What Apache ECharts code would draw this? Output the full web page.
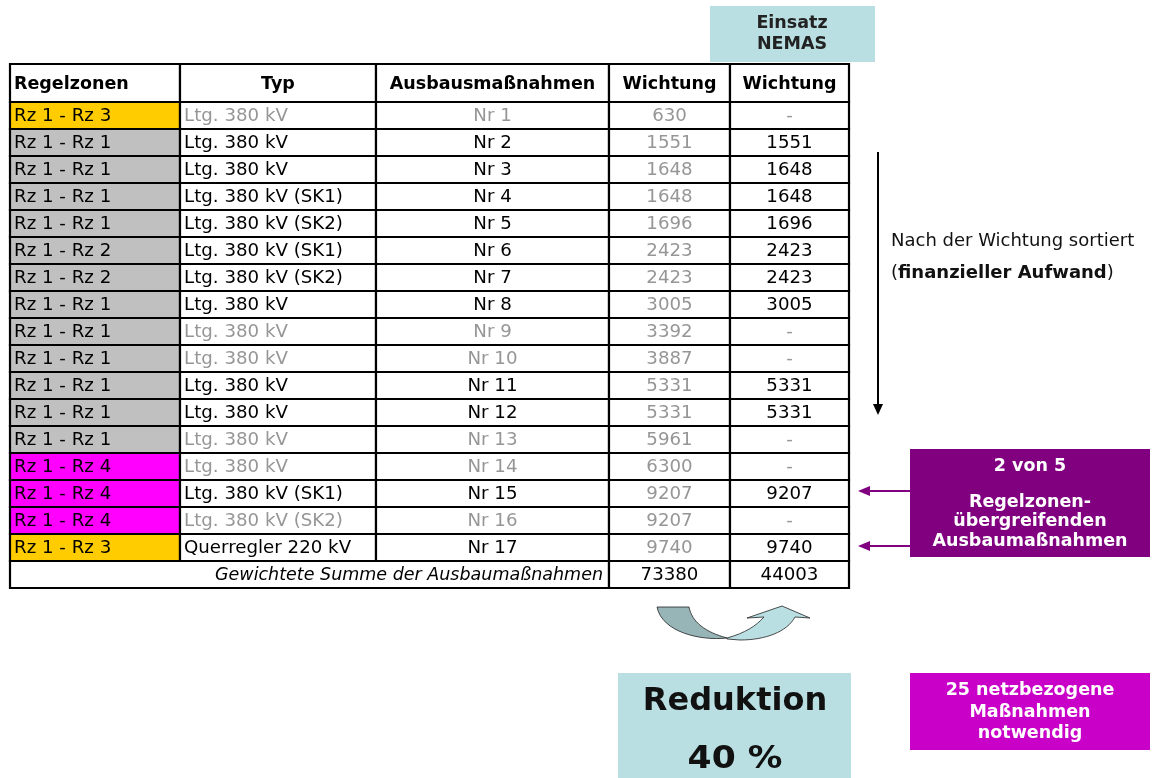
<!DOCTYPE html>
<html>
<head>
<meta charset="utf-8">
<script src="https://cdn.jsdelivr.net/npm/echarts@6/dist/echarts.min.js"></script>
<style>
html,body{margin:0;padding:0;background:#fff;}
#chart{width:1152px;height:778px;}
</style>
</head>
<body>
<div id="chart"></div>
<script>
// ---- data ----
var headers = ['Regelzonen', 'Typ', 'Ausbausmaßnahmen', 'Wichtung', 'Wichtung'];
var zones = ['Rz 1 - Rz 3','Rz 1 - Rz 1','Rz 1 - Rz 1','Rz 1 - Rz 1','Rz 1 - Rz 1','Rz 1 - Rz 2','Rz 1 - Rz 2','Rz 1 - Rz 1','Rz 1 - Rz 1','Rz 1 - Rz 1','Rz 1 - Rz 1','Rz 1 - Rz 1','Rz 1 - Rz 1','Rz 1 - Rz 4','Rz 1 - Rz 4','Rz 1 - Rz 4','Rz 1 - Rz 3'];
var types = ['Ltg. 380 kV','Ltg. 380 kV','Ltg. 380 kV','Ltg. 380 kV (SK1)','Ltg. 380 kV (SK2)','Ltg. 380 kV (SK1)','Ltg. 380 kV (SK2)','Ltg. 380 kV','Ltg. 380 kV','Ltg. 380 kV','Ltg. 380 kV','Ltg. 380 kV','Ltg. 380 kV','Ltg. 380 kV','Ltg. 380 kV (SK1)','Ltg. 380 kV (SK2)','Querregler 220 kV'];
var measures = ['Nr 1','Nr 2','Nr 3','Nr 4','Nr 5','Nr 6','Nr 7','Nr 8','Nr 9','Nr 10','Nr 11','Nr 12','Nr 13','Nr 14','Nr 15','Nr 16','Nr 17'];
var weights = [630,1551,1648,1648,1696,2423,2423,3005,3392,3887,5331,5331,5961,6300,9207,9207,9740];
var nemasWeights = [null,1551,1648,1648,1696,2423,2423,3005,null,null,5331,5331,null,null,9207,null,9740];
var sumLabel = 'Gewichtete Summe der Ausbaumaßnahmen';
var totals = [73380, 44003];
var zoneColors = {'Rz 1 - Rz 3':'#FFCC00','Rz 1 - Rz 1':'#C0C0C0','Rz 1 - Rz 2':'#C0C0C0','Rz 1 - Rz 4':'#FF00FF'};

// ---- layout ----
var FONT = '"DejaVu Sans", Verdana, sans-serif';
var GREY = '#969696';
var TFS = 17.5;
var colEdges = [0, 170, 366, 599, 720, 839];
var HEAD_H = 38, ROW_H = 27;
var nRows = zones.length;
var sumTop = HEAD_H + ROW_H * nRows;
var TABLE_H = sumTop + 27;

var cells = [];
headers.forEach(function (h, c) {
  cells.push({c0: c, c1: c + 1, y0: 0, y1: HEAD_H, text: h, bold: true, color: '#000', bg: '#fff', align: c === 0 ? 'left' : 'center'});
});
for (var i = 0; i < nRows; i++) {
  var y0 = HEAD_H + ROW_H * i, y1 = y0 + ROW_H;
  var used = nemasWeights[i] !== null;
  var tc = used ? '#000' : GREY;
  cells.push({c0: 0, c1: 1, y0: y0, y1: y1, text: zones[i], color: '#000', bg: zoneColors[zones[i]], align: 'left'});
  cells.push({c0: 1, c1: 2, y0: y0, y1: y1, text: types[i], color: tc, bg: '#fff', align: 'left'});
  cells.push({c0: 2, c1: 3, y0: y0, y1: y1, text: measures[i], color: tc, bg: '#fff', align: 'center'});
  cells.push({c0: 3, c1: 4, y0: y0, y1: y1, text: String(weights[i]), color: GREY, bg: '#fff', align: 'center'});
  cells.push({c0: 4, c1: 5, y0: y0, y1: y1, text: used ? String(nemasWeights[i]) : '-', color: used ? '#000' : GREY, bg: '#fff', align: 'center'});
}
cells.push({c0: 0, c1: 3, y0: sumTop, y1: TABLE_H, text: sumLabel, italic: true, color: '#000', bg: '#fff', align: 'right'});
cells.push({c0: 3, c1: 4, y0: sumTop, y1: TABLE_H, text: String(totals[0]), color: '#000', bg: '#fff', align: 'center'});
cells.push({c0: 4, c1: 5, y0: sumTop, y1: TABLE_H, text: String(totals[1]), color: '#000', bg: '#fff', align: 'center'});

var cellData = cells.map(function (c, i) { return [colEdges[c.c0], c.y0, i]; });

function renderCell(params, api) {
  var cell = cells[params.dataIndex];
  var p0 = api.coord([colEdges[cell.c0], cell.y0]);
  var p1 = api.coord([colEdges[cell.c1], cell.y1]);
  var x = p0[0], y = p0[1], w = p1[0] - p0[0], h = p1[1] - p0[1];
  var tx = cell.align === 'left' ? x + 4 : (cell.align === 'right' ? x + w - 6 : x + w / 2);
  var plain = !cell.bold && !cell.italic;
  return {
    type: 'group',
    children: [
      {type: 'rect', shape: {x: x, y: y, width: w, height: h}, style: {fill: cell.bg, stroke: '#000', lineWidth: 2.2}},
      {type: 'text', x: tx, y: y + h / 2 + 1, scaleX: plain ? 1.04 : 1, style: {
        text: cell.text, x: 0, y: 0, align: cell.align, verticalAlign: 'middle',
        fill: cell.color, fontFamily: FONT, fontSize: TFS,
        fontWeight: cell.bold ? 'bold' : 'normal', fontStyle: cell.italic ? 'italic' : 'normal'
      }}
    ]
  };
}

// curved arrow (decoration) drawn as a custom-series path
function renderCurve() {
  return {
    type: 'group',
    children: [
      {type: 'path', shape: {pathData: 'M 727 638 C 745 633 756 626 764 617 L 747 618 L 782 606 L 810 618 L 795 617 C 787 632 765 640 740 640 L 727 639 Z'},
        style: {fill: '#B9DFE3', stroke: '#222', lineWidth: 0.8}},
      {type: 'path', shape: {pathData: 'M 657 607 L 689 607 C 692 622 705 632 727 638 C 700 641 662 632 657 607 Z'},
        style: {fill: '#97B4B7', stroke: '#222', lineWidth: 0.8}}
    ]
  };
}

function txt(text, x, y, opts) {
  opts = opts || {};
  return {type: 'text', x: x, y: y, scaleX: opts.scaleX || 1, silent: true, style: {
    text: text, x: 0, y: 0, align: opts.align || 'center', verticalAlign: 'middle',
    fill: opts.color || '#000', fontFamily: FONT, fontSize: opts.size || 17.5,
    fontWeight: opts.bold ? 'bold' : 'normal'
  }};
}

var graphics = [
  // Einsatz NEMAS box
  {type: 'rect', shape: {x: 710, y: 6, width: 165, height: 56}, style: {fill: '#B9DFE3'}},
  txt('Einsatz', 792, 23, {bold: true, color: '#222'}),
  txt('NEMAS', 792, 44, {bold: true, color: '#222'}),
  // sort arrow
  {type: 'line', shape: {x1: 878, y1: 152, x2: 878, y2: 406}, style: {stroke: '#000', lineWidth: 2}},
  {type: 'polygon', shape: {points: [[873, 404], [883, 404], [878, 415]]}, style: {fill: '#000'}},
  txt('Nach der Wichtung sortiert', 891, 241, {align: 'left', color: '#111', size: 18}),
  {type: 'text', x: 891, y: 273, style: {
    text: '({b|finanzieller Aufwand})', align: 'left', verticalAlign: 'middle',
    fill: '#111', fontFamily: FONT, fontSize: 18,
    rich: {b: {fontWeight: 'bold', fontFamily: FONT, fontSize: 18, fill: '#111'}}
  }},
  // purple box
  {type: 'rect', shape: {x: 910, y: 449, width: 240, height: 108}, style: {fill: '#800080'}},
  txt('2 von 5', 1030, 466, {bold: true, color: '#fff'}),
  txt('Regelzonen-', 1030, 502, {bold: true, color: '#fff'}),
  txt('übergreifenden', 1030, 521, {bold: true, color: '#fff'}),
  txt('Ausbaumaßnahmen', 1030, 541, {bold: true, color: '#fff'}),
  {type: 'line', shape: {x1: 910, y1: 491, x2: 866, y2: 491}, style: {stroke: '#800080', lineWidth: 2}},
  {type: 'polygon', shape: {points: [[858, 491], [870, 486], [870, 496]]}, style: {fill: '#800080'}},
  {type: 'line', shape: {x1: 910, y1: 546, x2: 866, y2: 546}, style: {stroke: '#800080', lineWidth: 2}},
  {type: 'polygon', shape: {points: [[858, 546], [870, 541], [870, 551]]}, style: {fill: '#800080'}},
  // Reduktion box
  {type: 'rect', shape: {x: 618, y: 673, width: 233, height: 105}, style: {fill: '#B9DFE3'}},
  txt('Reduktion', 735, 702, {bold: true, size: 32, color: '#111'}),
  txt('40 %', 735, 760, {bold: true, size: 32, color: '#111', scaleX: 1.08}),
  // magenta box
  {type: 'rect', shape: {x: 910, y: 673, width: 240, height: 77}, style: {fill: '#C800C8'}},
  txt('25 netzbezogene', 1030, 690, {bold: true, color: '#fff'}),
  txt('Maßnahmen', 1030, 712, {bold: true, color: '#fff'}),
  txt('notwendig', 1030, 733, {bold: true, color: '#fff'})
];

var chart = echarts.init(document.getElementById('chart'), null, {renderer: 'canvas'});
chart.setOption({
  backgroundColor: '#fff',
  animation: false,
  grid: {left: 10, top: 64, width: 839, height: TABLE_H},
  xAxis: {type: 'value', min: 0, max: colEdges[colEdges.length - 1], show: false},
  yAxis: {type: 'value', min: 0, max: TABLE_H, inverse: true, show: false},
  series: [{
    type: 'custom',
    renderItem: renderCell,
    data: cellData,
    encode: {x: 0, y: 1},
    clip: false,
    silent: true
  }, {
    type: 'custom',
    renderItem: renderCurve,
    data: [[0, 0]],
    encode: {x: 0, y: 1},
    clip: false,
    silent: true
  }],
  graphic: graphics
});
</script>
</body>
</html>
